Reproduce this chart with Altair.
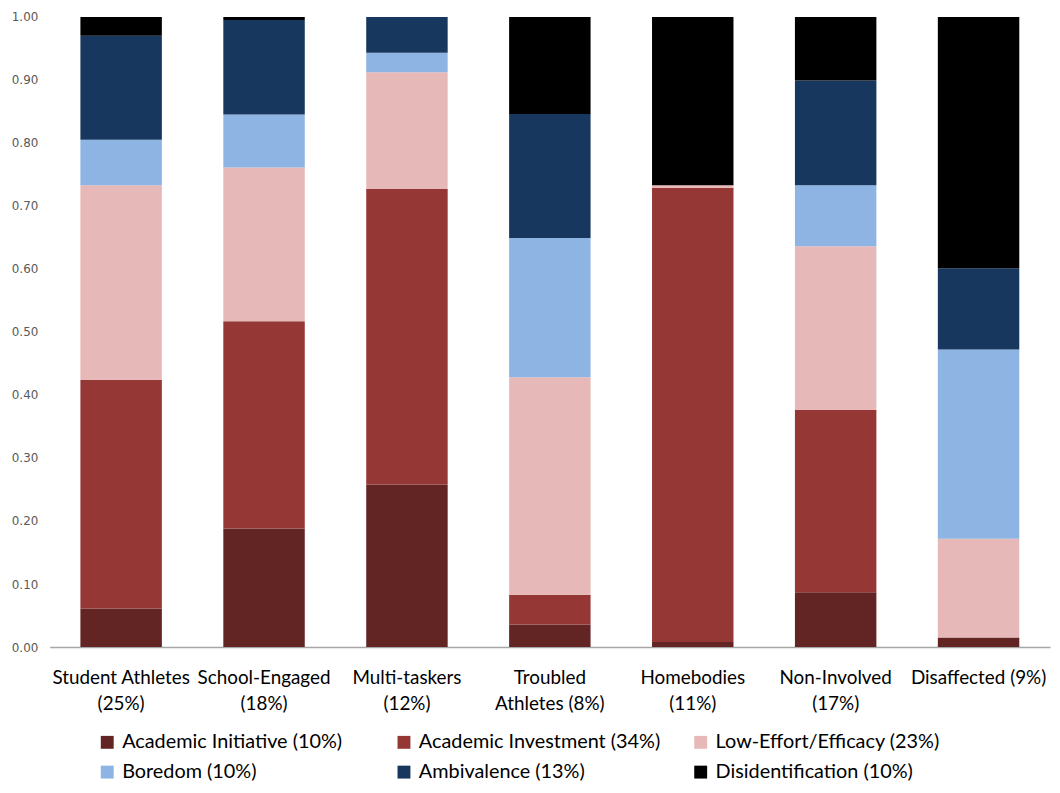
import altair as alt
import pandas as pd

categories = [
    "Student Athletes|(25%)",
    "School-Engaged|(18%)",
    "Multi-taskers|(12%)",
    "Troubled|Athletes (8%)",
    "Homebodies|(11%)",
    "Non-Involved|(17%)",
    "Disaffected (9%)",
]

series_names = [
    "Academic Initiative (10%)",
    "Academic Investment (34%)",
    "Low-Effort/Efficacy (23%)",
    "Boredom (10%)",
    "Ambivalence (13%)",
    "Disidentification (10%)",
]

academic_initiative = [0.061, 0.188, 0.258, 0.036, 0.008, 0.087, 0.015]
academic_investment = [0.363, 0.329, 0.469, 0.047, 0.721, 0.289, 0.000]
low_effort = [0.309, 0.244, 0.185, 0.345, 0.004, 0.260, 0.157]
boredom = [0.072, 0.084, 0.031, 0.221, 0.000, 0.097, 0.300]
ambivalence = [0.165, 0.150, 0.057, 0.197, 0.000, 0.166, 0.129]
disidentification = [0.030, 0.005, 0.000, 0.154, 0.267, 0.101, 0.399]

colors = ["#632523", "#953735", "#E6B9B8", "#8EB4E3", "#17375E", "#000000"]

series_values = [academic_initiative, academic_investment, low_effort,
                 boredom, ambivalence, disidentification]

rows = []
for si, (name, vals) in enumerate(zip(series_names, series_values)):
    for cat, v in zip(categories, vals):
        rows.append({"group": cat, "profile": name, "value": v, "idx": si})
df = pd.DataFrame(rows)

label_font = "Lato"

chart = alt.Chart(df).mark_bar().encode(
    x=alt.X("group:N", sort=categories, title=None,
            scale=alt.Scale(paddingInner=0.43, paddingOuter=0.215),
            axis=alt.Axis(labelExpr="split(datum.label, '|')", labelAngle=0,
                          labelFont=label_font, labelFontSize=19, labelColor="#000000",
                          labelLineHeight=26, labelPadding=22, labelLimit=300,
                          ticks=False, tickSize=0, domainColor="#a6a6a6", domainWidth=1.5,
                          grid=False)),
    y=alt.Y("value:Q", stack="zero", title=None,
            scale=alt.Scale(domain=[0, 1], nice=False),
            axis=alt.Axis(values=[i / 10 for i in range(11)], format=".2f",
                          labelFont="DejaVu Sans", labelFontSize=12, labelColor="#595959",
                          labelPadding=12, ticks=False, tickSize=0, domain=False, grid=False)),
    color=alt.Color("profile:N", sort=series_names,
                    scale=alt.Scale(domain=series_names, range=colors),
                    legend=alt.Legend(title=None, orient="none", legendX=48, legendY=721,
                                      direction="horizontal",
                                      columns=3, gridAlign="all", columnPadding=30,
                                      rowPadding=10, symbolType="square", symbolSize=169,
                                      symbolStrokeWidth=0, labelFont=label_font,
                                      labelFontSize=20, labelColor="#000000", labelOffset=5,
                                      labelLimit=400)),
    order=alt.Order("idx:Q", sort="ascending"),
).properties(
    width=1008,
    height=635,
    padding={"left": 42, "top": 6, "right": 2, "bottom": 132},
    autosize=alt.AutoSizeParams(type="none"),
).configure_view(stroke=None)

chart.save("out.html", embed_options={"renderer": "svg", "actions": False})
